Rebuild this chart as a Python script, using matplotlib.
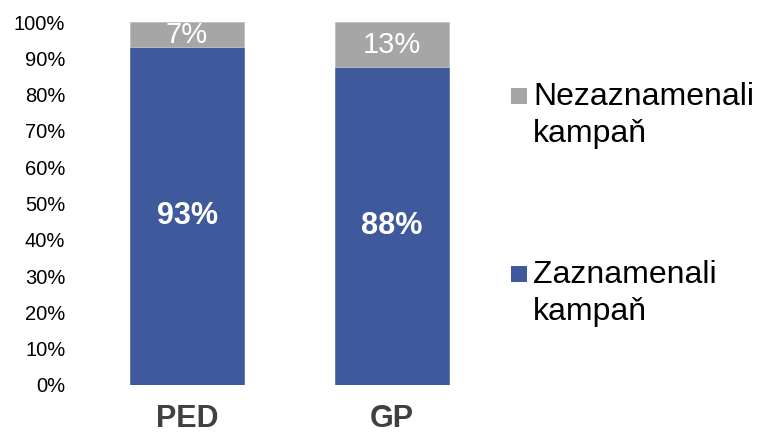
import matplotlib
matplotlib.use("Agg")
import matplotlib.pyplot as plt
from matplotlib.patches import Rectangle

plt.rcParams['font.family'] = ['Liberation Sans', 'DejaVu Sans']

categories = ["PED", "GP"]
zaznamenali = [93, 87.5]
nezaznamenali = [7, 12.5]
zaz_labels = ["93%", "88%"]
nez_labels = ["7%", "13%"]
yticks = list(range(0, 101, 10))
legend_labels = ["Nezaznamenali\nkampaň", "Zaznamenali\nkampaň"]

blue = "#3F5A9C"
gray = "#A6A6A6"

W, H = 759, 433
fig = plt.figure(figsize=(W/100, H/100), dpi=100)
L, R, B, T = 75, 500, 385, 22
ax = fig.add_axes([L/W, (H-B)/H, (R-L)/W, (B-T)/H])

x = list(range(len(categories)))
bw = 114/205
ax.bar(x, zaznamenali, width=bw, color=blue, edgecolor="#5a72ad", linewidth=0.6)
ax.bar(x, nezaznamenali, width=bw, bottom=zaznamenali, color=gray, edgecolor="#c0c0c0", linewidth=0.6)

for xi, z, n, zl, nl in zip(x, zaznamenali, nezaznamenali, zaz_labels, nez_labels):
    ax.text(xi, z/2, zl, ha="center", va="center", color="white", fontsize=22, fontweight="bold")
    ax.text(xi, z + n/2, nl, ha="center", va="center", color="white", fontsize=21)

ax.set_xlim((L-187)/205, (R-187)/205)
ax.set_ylim(0, 100)
ax.set_yticks(yticks)
ax.set_yticklabels([f"{t}%" for t in yticks], fontsize=14.5, color="black")
ax.set_xticks(x)
ax.set_xticklabels(categories, fontsize=22, fontweight="bold", color="#404040")
ax.tick_params(axis="y", length=0, pad=7)
ax.tick_params(axis="x", length=0, pad=14)
for s in ax.spines.values():
    s.set_visible(False)

# legend
leg = [(gray, legend_labels[0], 96), (blue, legend_labels[1], 274)]
for col, lab, yc in leg:
    fig.patches.append(Rectangle((511/W, (H-yc-8)/H), 16/W, 16/H, transform=fig.transFigure, facecolor=col, edgecolor="none"))
    fig.text(533/W, (H-yc+14)/H, lab, fontsize=23, va="top", ha="left", color="black", linespacing=1.3)

fig.savefig("out.png", dpi=100)
